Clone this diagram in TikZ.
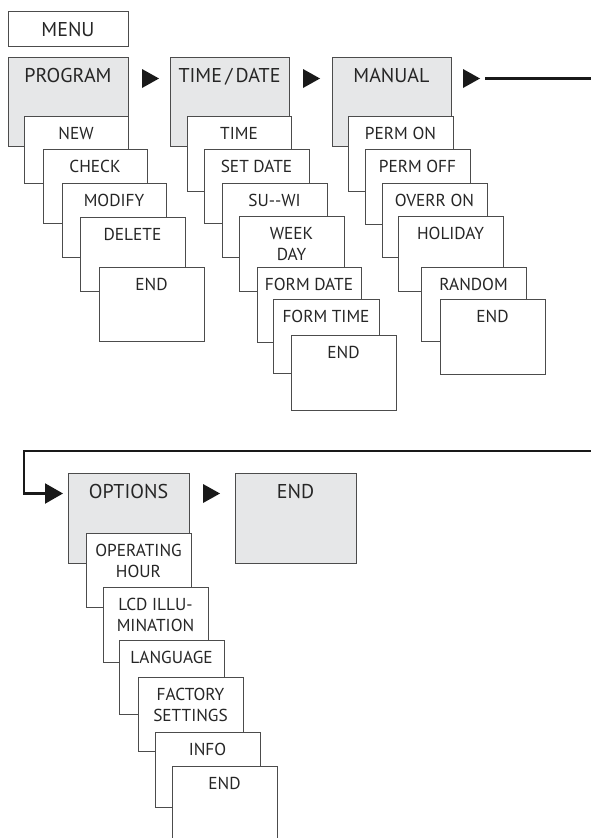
\documentclass[tikz,border=0pt]{standalone}
\usepackage{fontspec}
\setmainfont{PT Sans}
\usetikzlibrary{arrows.meta}
\definecolor{menugrey}{HTML}{E6E7E8}
\tikzset{
  sub box/.style={draw=black!70, fill=white, line width=1pt},
  top box/.style={draw=black!70, fill=menugrey, line width=1pt},
  head box/.style={sub box},
  sub text/.style={anchor=north, inner sep=0pt, align=center, text=black!85, font=\fontsize{17.3}{21}\selectfont},
  top text/.style={sub text, font=\fontsize{20}{22}\selectfont},
  head text/.style={top text},
  route/.style={line width=2.2pt, black!90},
}
\def\menuitem[#1](#2,#3)(#4,#5)#6#7{%
  \draw[#1 box] (#2,#3) rectangle (#4,#5);
  \node[#1 text] (#6) at ({(#2+#4)/2},{#3+11}) {#7};}
\def\pointer(#1,#2){\fill[black!90] (#1,{#2-9.5}) -- ({#1+17},#2) -- (#1,{#2+9.5}) -- cycle;}

\begin{document}
\begin{tikzpicture}[x=1pt, y=-1pt]
			%%%%% START %%%%%
			\useasboundingbox (0,0) rectangle (590,838);
			
			\menuitem[head](8,11)(128,46){menu}{MENU}
			
			\menuitem[top](8,57)(128,146){program}{PROGRAM}
			\menuitem[top](170,57)(289,146){timedate}{TIME\,/\,DATE}
			\menuitem[top](332,57)(451,146){manual}{MANUAL}
			\pointer(142,78.5)
			\pointer(303,78.5)
			\pointer(463,78.5)
			
			\menuitem[sub](24,116)(128,183){new}{NEW}
			\menuitem[sub](43,149)(147,223){check}{CHECK}
			\menuitem[sub](62,183)(166,257){modify}{MODIFY}
			\menuitem[sub](80,217)(185,291){delete}{DELETE}
			\menuitem[sub](99,267)(204,341){progend}{END}
			
			\menuitem[sub](187,116)(291,191){time}{TIME}
			\menuitem[sub](204,149)(309,223){setdate}{SET DATE}
			\menuitem[sub](222,183)(327,257){suwi}{SU-{}-WI}
			\menuitem[sub](239,216)(344,291){weekday}{WEEK\\DAY}
			\menuitem[sub](257,267)(361,342){formdate}{FORM DATE}
			\menuitem[sub](273,299)(379,373){formtime}{FORM TIME}
			\menuitem[sub](291,335)(396,410){timeend}{END}
			
			\menuitem[sub](348,116)(453,191){permon}{PERM ON}
			\menuitem[sub](365,149)(470,224){permoff}{PERM OFF}
			\menuitem[sub](382,183)(487,257){overron}{OVERR ON}
			\menuitem[sub](398,216)(503,291){holiday}{HOLIDAY}
			\menuitem[sub](421,267)(526,341){random}{RANDOM}
			\menuitem[sub](440,299)(545,374){manend}{END}
			
			\coordinate (wrapout) at (485,78.5);
			\coordinate (wrapedge) at (592,78.5);
			\draw[route] (wrapout) -- (wrapedge);
			\coordinate (wrapin) at (592,451);
			\coordinate (optin) at (63,493.5);
			\draw[route,-{Triangle[length=18pt,width=20pt]}] (wrapin) -- (24,451) |- (optin);
			
			\menuitem[top](68,473)(189,563){options}{OPTIONS}
			\menuitem[top](235,473)(356,563){optend}{END}
			\pointer(203,493.5)
			
			\menuitem[sub](86,533)(191,607){ophour}{OPERATING\\HOUR}
			\menuitem[sub](103,587)(208,662){lcd}{LCD ILLU-\\MINATION}
			\menuitem[sub](119,640)(224,714){language}{LANGUAGE}
			\menuitem[sub](138,677)(243,751){factory}{FACTORY\\SETTINGS}
			\menuitem[sub](155,732)(260,807){info}{INFO}
			\menuitem[sub](172,766)(277,841){infoend}{END}
			
			%%%%% END %%%%%
		\end{tikzpicture}
\end{document}
